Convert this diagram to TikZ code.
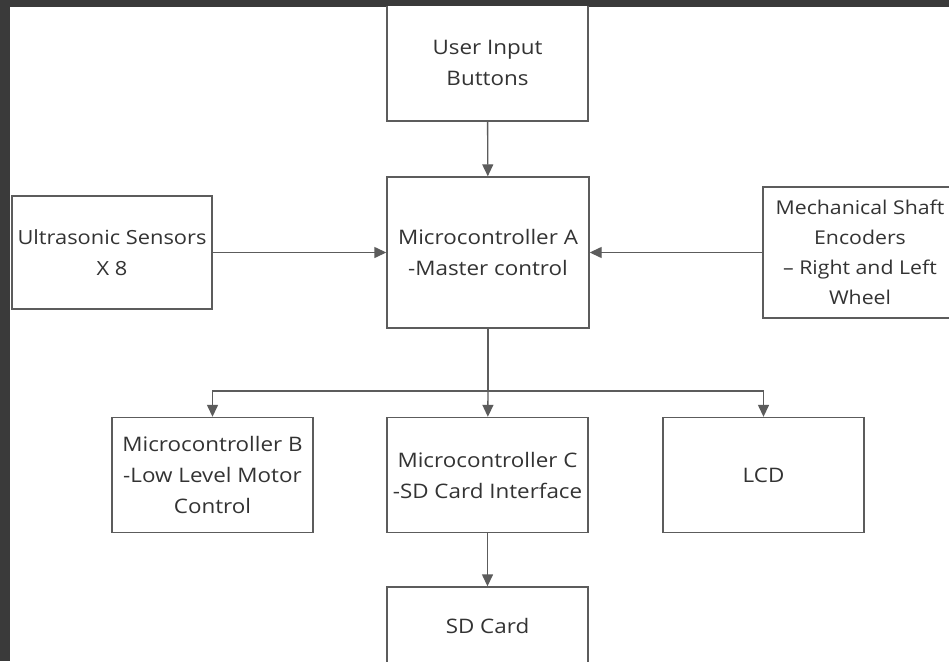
\documentclass[tikz,border=0pt]{standalone}
\usepackage{fontspec}
\setmainfont[FakeStretch=1.12]{Open Sans}
\usetikzlibrary{positioning}
\usetikzlibrary{arrows.meta}

\definecolor{framegray}{HTML}{3A3A3A}
\definecolor{linegray}{HTML}{5C5C5C}
\definecolor{textgray}{HTML}{333333}

\tikzset{
    block/.style={rectangle, draw=linegray, line width=1.4pt, fill=white,
        align=center, inner sep=0pt, minimum width=201pt, text=textgray,
        font=\fontsize{20}{31}\selectfont},
    link/.style={draw=linegray, line width=1.4pt},
    flow/.style={link, arrows=-{Triangle[length=12pt,width=11pt]}}
}

\begin{document}
\begin{tikzpicture}[x=1pt,y=-1pt]

            \useasboundingbox (0,0) rectangle (949,661);
            \fill[framegray] (0,0) rectangle (949,661);
            \fill[white] (10,7) rectangle (949,661);

            \begin{scope}
            \clip (10,7) rectangle (949,661);

            \path   (487.5,62.5) node (ui) [block,minimum height=117pt] {User Input\\Buttons}
                    (488,252.5) node (ma) [block,minimum height=151pt,minimum width=202pt] {Microcontroller A\\-Master control}
                    (112,252.5) node (us) [block,minimum height=113pt,minimum width=200pt,font=\fontsize{19.5}{31}\selectfont] {Ultrasonic Sensors\\X 8}
                    (860,252.5) node (ms) [block,minimum height=131pt,minimum width=194pt,font=\fontsize{19}{30}\selectfont] {Mechanical Shaft\\Encoders\\-- Right and Left\\Wheel}
                    (212.5,475) node (mb) [block,minimum height=115pt] {Microcontroller B\\-Low Level Motor\\Control}
                    (487.5,475) node (mc) [block,minimum height=115pt] {Microcontroller C\\-SD Card Interface}
                    (763.5,475) node (lcd) [block,minimum height=115pt] {LCD}
                    (487.5,626) node (sd) [block,minimum height=78pt] {SD Card};

            \coordinate (bus) at (488,391);

            \draw[flow] (ui) -- (ma);
            \draw[flow] (us) -- (ma);
            \draw[flow] (ms) -- (ma);
            \draw[link] (ma) -- (bus);
            \draw[flow] (bus) -| (mb);
            \draw[flow] (bus) -- (mc);
            \draw[flow] (bus) -| (lcd);
            \draw[flow] (mc) -- (sd);
            \end{scope}

\end{tikzpicture}
\end{document}
